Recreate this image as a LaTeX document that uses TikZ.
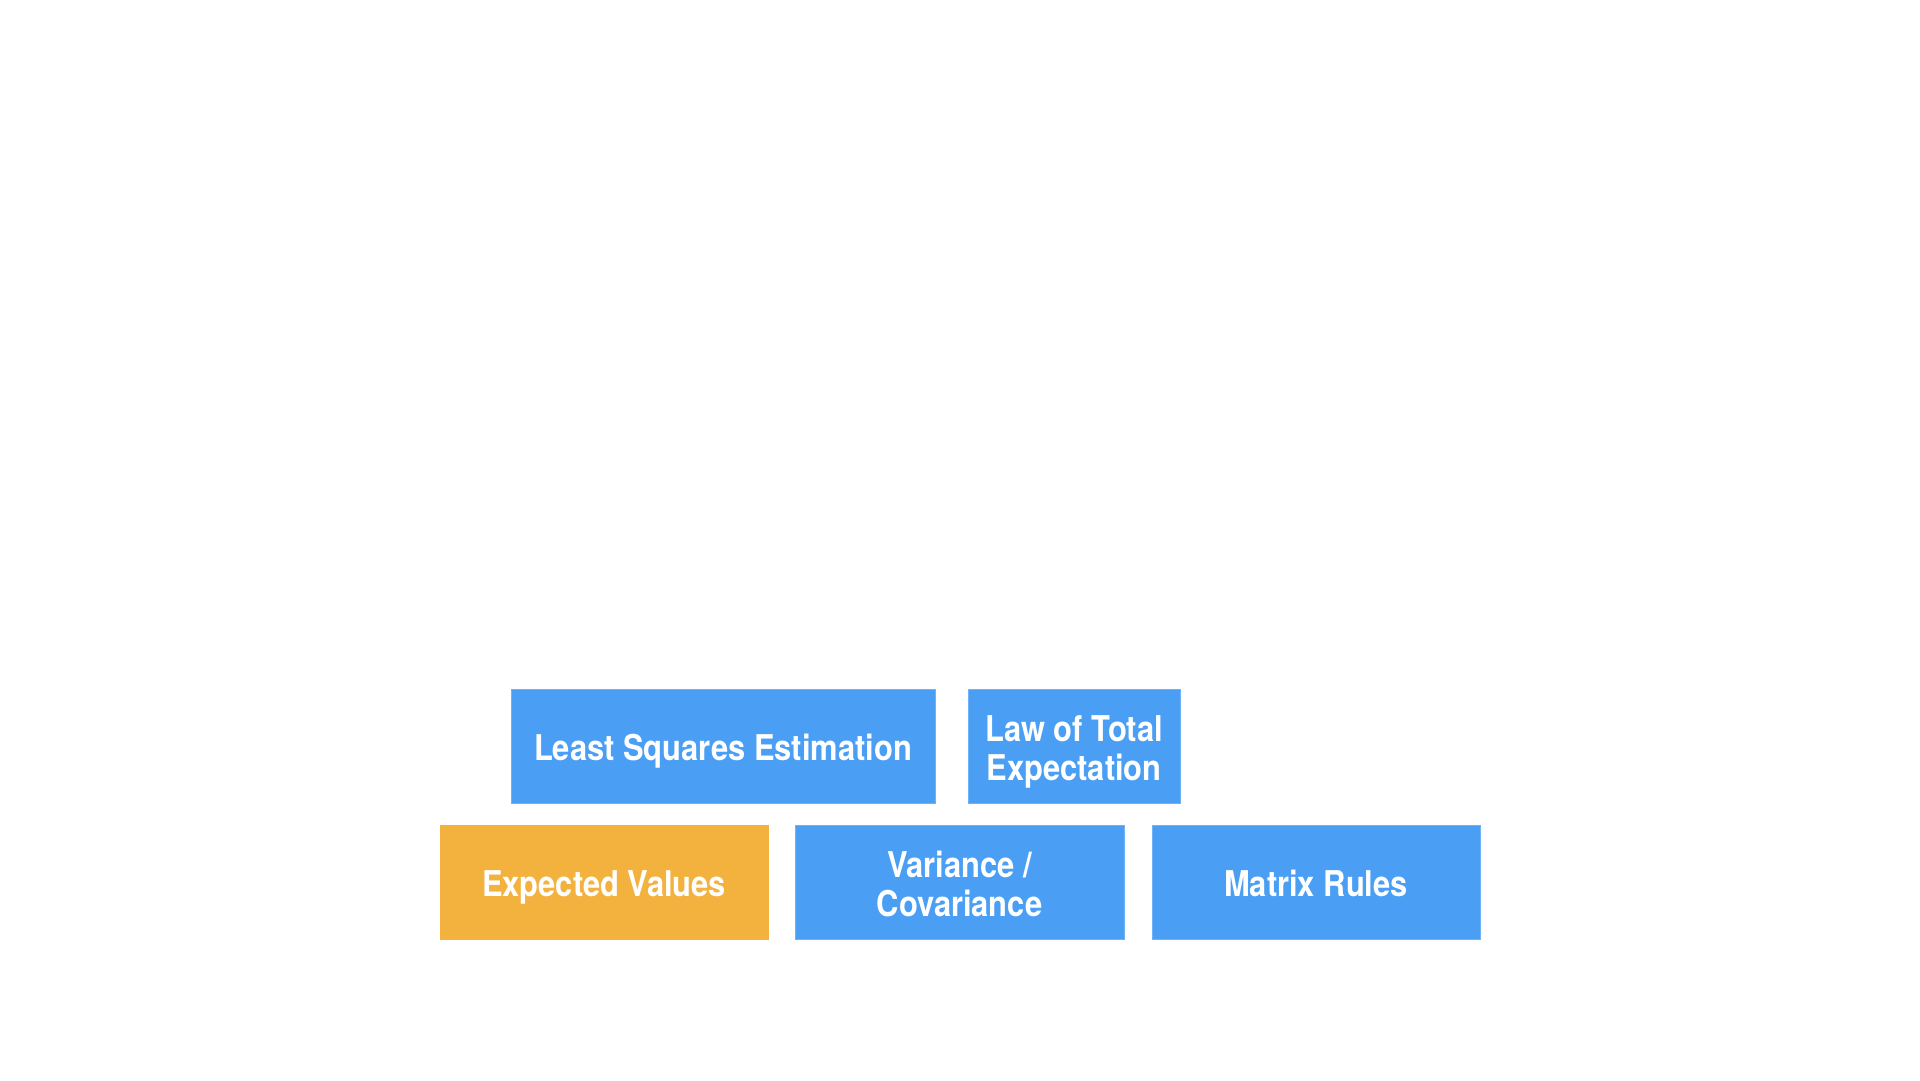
\documentclass[tikz,border=0pt]{standalone}
\usepackage{fontspec}
\setmainfont[FakeStretch=0.87]{TeX Gyre Heros}
\definecolor{boxblue}{RGB}{74,159,245}
\definecolor{boxorange}{RGB}{243,178,61}
\newcommand\twolines[2]{\begin{tabular}{@{}c@{}}\rule{0pt}{42pt}#1\\#2\end{tabular}}
\begin{document}
\begin{tikzpicture}[x=1pt,y=-1pt,
  card/.style={fill=boxblue,draw=boxblue!80!white,line width=0.8pt,inner sep=0pt,
    minimum height=114pt,text=white,align=center,
    font=\fontsize{35.5}{39.5}\selectfont\bfseries,
    execute at begin node={\rule{0pt}{36pt}},
    execute at end node={\rule[-8pt]{0pt}{0pt}}},
  hot/.style={card,fill=boxorange,draw=boxorange}]
\useasboundingbox (0,0) rectangle (1920,1080);
\fill[white] (0,0) rectangle (1920,1080);
\node[card,minimum width=424pt] (lse) at (723,746) {Least Squares Estimation};
\node[card,minimum width=212pt] (lte) at (1074,746) {\twolines{Law of Total}{Expectation}};
\node[hot,minimum width=328pt] (ev) at (604,882) {Expected Values};
\node[card,minimum width=329pt] (vc) at (959.5,882) {\twolines{Variance /}{Covariance}};
\node[card,minimum width=328pt] (mr) at (1316,882) {Matrix Rules};
\end{tikzpicture}
\end{document}
